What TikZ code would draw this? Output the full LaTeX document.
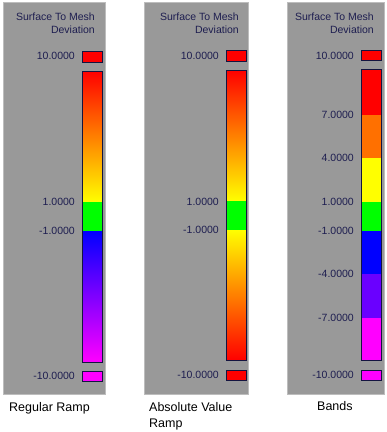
\documentclass[tikz,border=0pt]{standalone}
\usepackage{fontspec}
\setmainfont{Liberation Sans}
\definecolor{panelgray}{HTML}{999999}
\definecolor{paneledge}{HTML}{BDBDBD}
\definecolor{labelnavy}{HTML}{1E1E50}
\definecolor{barborder}{HTML}{141440}
\definecolor{bandorange}{HTML}{FF7000}
\definecolor{bandpurple}{HTML}{6A00FF}
\definecolor{pureblue}{HTML}{0000FF}
\definecolor{puremag}{HTML}{FF00FF}
\definecolor{puregreen}{HTML}{00FF00}
\definecolor{purered}{HTML}{FF0000}
\definecolor{pureyellow}{HTML}{FFFF00}
\tikzset{
  panel/.style={fill=panelgray, draw=paneledge, line width=1pt},
  lbl/.style={anchor=east, text=labelnavy, font=\fontsize{10.5}{12}\selectfont, inner sep=0pt},
  ttl/.style={anchor=east, text=labelnavy, font=\fontsize{10.5}{12}\selectfont, inner sep=0pt},
  swatch/.style={draw=barborder, line width=1pt},
  captxt/.style={anchor=west, text=black, font=\fontsize{12.5}{14}\selectfont, inner sep=0pt}
}
\begin{document}
\begin{tikzpicture}[x=1pt,y=-1pt]
\useasboundingbox[fill=white] (0,0) rectangle (387,432);

% ---------- Panel 1: Regular Ramp ----------
\draw[panel] (3.5,2.5) rectangle (105.5,394.5);
\node[ttl] (t1a) at (95,17) {Surface To Mesh};
\node[ttl] (t1b) at (95,30) {Deviation};
\node[lbl] (l1top) at (75,56) {10.0000};
\node[lbl] (l1p1) at (75,202) {1.0000};
\node[lbl] (l1m1) at (75,231) {-1.0000};
\node[lbl] (l1bot) at (75,376) {-10.0000};
\fill[purered] (82,51) rectangle (102,62);
\draw[swatch] (82,51) rectangle (102,62);
\shade[top color=purered, bottom color=pureyellow] (82,71) rectangle (102,202);
\fill[puregreen] (82,202) rectangle (102,231);
\shade[top color=pureblue, bottom color=puremag] (82,231) rectangle (102,362);
\draw[swatch] (82,71) rectangle (102,362);
\fill[puremag] (82,371) rectangle (102,381);
\draw[swatch] (82,371) rectangle (102,381);
\node[captxt] (c1) at (9,408) {Regular Ramp};

% ---------- Panel 2: Absolute Value Ramp ----------
\draw[panel] (144.5,2.5) rectangle (248.5,394.5);
\node[ttl] (t2a) at (239,17) {Surface To Mesh};
\node[ttl] (t2b) at (239,30) {Deviation};
\node[lbl] (l2top) at (219,56) {10.0000};
\node[lbl] (l2p1) at (219,202) {1.0000};
\node[lbl] (l2m1) at (219,230) {-1.0000};
\node[lbl] (l2bot) at (219,375) {-10.0000};
\fill[purered] (226,50) rectangle (246,61);
\draw[swatch] (226,50) rectangle (246,61);
\shade[top color=purered, bottom color=pureyellow] (226,70) rectangle (246,201);
\fill[puregreen] (226,201) rectangle (246,230);
\shade[top color=pureyellow, bottom color=purered] (226,230) rectangle (246,360);
\draw[swatch] (226,70) rectangle (246,360);
\fill[purered] (226,370) rectangle (246,380);
\draw[swatch] (226,370) rectangle (246,380);
\node[captxt] (c2a) at (149,407) {Absolute Value};
\node[captxt] (c2b) at (149,424) {Ramp};

% ---------- Panel 3: Bands ----------
\draw[panel] (287.5,2.5) rectangle (384.5,394.5);
\node[ttl] (t3a) at (374,17) {Surface To Mesh};
\node[ttl] (t3b) at (374,30) {Deviation};
\node[lbl] (l3top) at (354,56) {10.0000};
\node[lbl] (l3p7) at (354,115) {7.0000};
\node[lbl] (l3p4) at (354,158) {4.0000};
\node[lbl] (l3p1) at (354,202) {1.0000};
\node[lbl] (l3m1) at (354,231) {-1.0000};
\node[lbl] (l3m4) at (354,274) {-4.0000};
\node[lbl] (l3m7) at (354,318) {-7.0000};
\node[lbl] (l3bot) at (354,375) {-10.0000};
\fill[purered] (361,50) rectangle (381,60);
\draw[swatch] (361,50) rectangle (381,60);
\fill[purered] (361,69) rectangle (381,115);
\fill[bandorange] (361,115) rectangle (381,158);
\fill[pureyellow] (361,158) rectangle (381,202);
\fill[puregreen] (361,202) rectangle (381,231);
\fill[pureblue] (361,231) rectangle (381,274);
\fill[bandpurple] (361,274) rectangle (381,318);
\fill[puremag] (361,318) rectangle (381,360);
\draw[swatch] (361,69) rectangle (381,360);
\fill[puremag] (361,370) rectangle (381,380);
\draw[swatch] (361,370) rectangle (381,380);
\node[captxt] (c3) at (317,406) {Bands};
\end{tikzpicture}
\end{document}
